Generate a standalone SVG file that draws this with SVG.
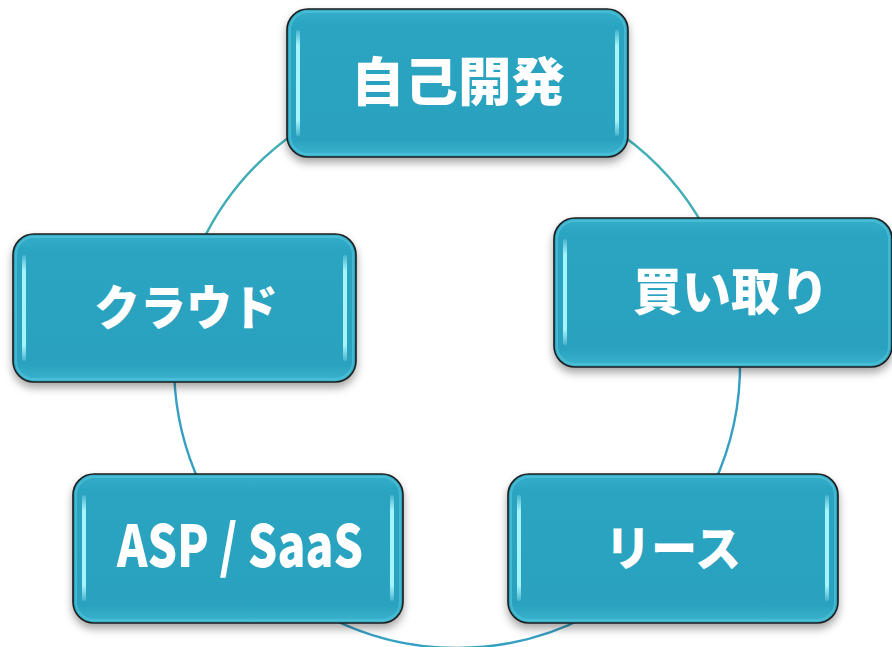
<svg xmlns="http://www.w3.org/2000/svg" width="892" height="647" viewBox="0 0 892 647">
  <defs>
    <filter id="shadow" x="-10%" y="-15%" width="120%" height="140%">
      <feDropShadow dx="0" dy="5" stdDeviation="4" flood-color="#000" flood-opacity="0.35"/>
    </filter>
    <linearGradient id="fillGrad" x1="0" y1="0" x2="0" y2="1">
      <stop offset="0" stop-color="#35aec9"/>
      <stop offset="0.12" stop-color="#2aa4c1"/>
      <stop offset="0.88" stop-color="#29a2bf"/>
      <stop offset="1" stop-color="#3db4cf"/>
    </linearGradient>
    <linearGradient id="barGrad" x1="0" y1="0" x2="0" y2="1">
      <stop offset="0" stop-color="#b5f7ff" stop-opacity="0.2"/>
      <stop offset="0.15" stop-color="#a6f4fd"/>
      <stop offset="0.85" stop-color="#a6f4fd"/>
      <stop offset="1" stop-color="#b5f7ff" stop-opacity="0.2"/>
    </linearGradient>
  </defs>
  <style>
    .box { fill: url(#fillGrad); stroke: #1c1c1c; stroke-width: 1.6; filter: url(#shadow); }
    .inner { fill: none; stroke: #55c6dc; stroke-width: 2; stroke-opacity: 0.6; }
    .bar { fill: url(#barGrad); }
    .lbl { fill: #ffffff; font-family: "Noto Sans CJK JP", "Noto Sans", sans-serif; font-weight: 900; text-anchor: middle; }
    .conn { fill: none; stroke-width: 2.4; }
    .teal { stroke: #41aeb5; }
    .blue { stroke: #369fc4; }
  </style>

  <g id="connectors">
    <path class="conn teal" d="M299.3,130 A283,283 0 0 0 200.7,245"/>
    <path class="conn blue" d="M174.2,375 A283,283 0 0 0 200.7,485"/>
    <path class="conn blue" d="M324.4,615 A283,283 0 0 0 589.6,615"/>
    <path class="conn blue" d="M713.3,485 A283,283 0 0 0 740,360"/>
    <path class="conn teal" d="M704.6,228 A283,283 0 0 0 621.9,135"/>
  </g>

  <g id="node-jiko">
    <rect class="box" x="287" y="9" width="341" height="148" rx="21"/>
    <rect class="inner" x="290" y="12" width="335" height="142" rx="18"/>
    <rect class="bar" x="296" y="30" width="4" height="106" rx="2"/>
    <rect class="bar" x="615" y="30" width="4" height="106" rx="2"/>
    <text class="lbl" x="458" y="101" font-size="52" textLength="214" lengthAdjust="spacingAndGlyphs">自己開発</text>
  </g>

  <g id="node-cloud">
    <rect class="box" x="13" y="234" width="343" height="148" rx="21"/>
    <rect class="inner" x="16" y="237" width="337" height="142" rx="18"/>
    <rect class="bar" x="22" y="255" width="4" height="106" rx="2"/>
    <rect class="bar" x="343" y="255" width="4" height="106" rx="2"/>
    <text class="lbl" x="186" y="325" font-size="48" textLength="184" lengthAdjust="spacingAndGlyphs">クラウド</text>
  </g>

  <g id="node-kaitori">
    <rect class="box" x="554" y="218" width="338" height="149" rx="21"/>
    <rect class="inner" x="557" y="221" width="332" height="143" rx="18"/>
    <rect class="bar" x="563" y="239" width="4" height="106" rx="2"/>
    <text class="lbl" x="731" y="310" font-size="50" textLength="196" lengthAdjust="spacingAndGlyphs">買い取り</text>
  </g>

  <g id="node-asp">
    <rect class="box" x="73" y="474" width="330" height="149" rx="21"/>
    <rect class="inner" x="76" y="477" width="324" height="143" rx="18"/>
    <rect class="bar" x="82" y="495" width="4" height="106" rx="2"/>
    <rect class="bar" x="390" y="495" width="4" height="106" rx="2"/>
    <text class="lbl" x="240" y="567" font-size="58" font-weight="700" textLength="246" lengthAdjust="spacingAndGlyphs">ASP / SaaS</text>
  </g>

  <g id="node-lease">
    <rect class="box" x="508" y="474" width="330" height="149" rx="21"/>
    <rect class="inner" x="511" y="477" width="324" height="143" rx="18"/>
    <rect class="bar" x="517" y="495" width="4" height="106" rx="2"/>
    <rect class="bar" x="825" y="495" width="4" height="106" rx="2"/>
    <text class="lbl" x="673" y="566" font-size="48" textLength="136" lengthAdjust="spacingAndGlyphs">リース</text>
  </g>
</svg>
